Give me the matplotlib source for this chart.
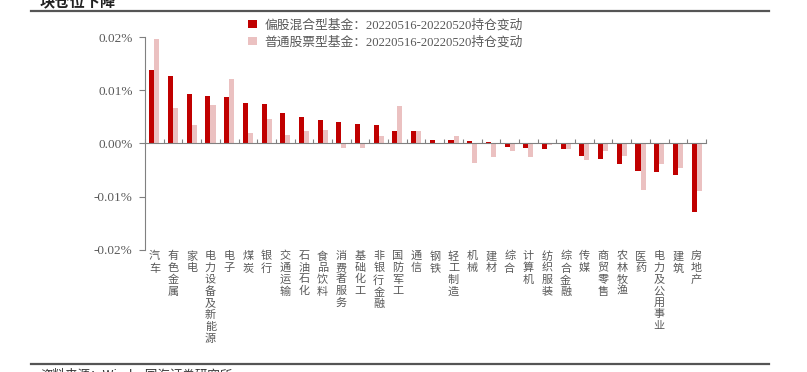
import matplotlib.pyplot as plt
import numpy as np
from matplotlib.ticker import FuncFormatter

plt.rcParams['font.family'] = ['Liberation Serif', 'Noto Sans CJK SC']
plt.rcParams['axes.unicode_minus'] = False

# industries, ordered as in the chart
industries = ["汽车", "有色金属", "家电", "电力设备及新能源", "电子", "煤炭", "银行",
              "交通运输", "石油石化", "食品饮料", "消费者服务", "基础化工", "非银行金融",
              "国防军工", "通信", "钢铁", "轻工制造", "机械", "建材", "综合", "计算机",
              "纺织服装", "综合金融", "传媒", "商贸零售", "农林牧渔", "医药",
              "电力及公用事业", "建筑", "房地产"]

# position change, in %
mixed_fund = [0.0138, 0.0126, 0.0093, 0.0089, 0.0087, 0.0077, 0.0074,
              0.0057, 0.0050, 0.0044, 0.0040, 0.0036, 0.0034,
              0.0023, 0.0023, 0.00075, 0.0006, 0.0005, 0.00025, -0.00075, -0.0008,
              -0.00107, -0.0011, -0.0023, -0.0030, -0.0038, -0.0052,
              -0.0053, -0.0059, -0.0128]
stock_fund = [0.0197, 0.0066, 0.0035, 0.0072, 0.0121, 0.0019, 0.0046,
              0.0016, 0.0023, 0.0025, -0.0009, -0.0008, 0.0015,
              0.0071, 0.0023, -0.0001, 0.0014, -0.0036, -0.0025, -0.00145, -0.0026,
              -0.0002, -0.0010, -0.0031, -0.00145, -0.0023, -0.0087,
              -0.0038, -0.0046, -0.0089]

label_mixed = "偏股混合型基金：20220516-20220520持仓变动"
label_stock = "普通股票型基金：20220516-20220520持仓变动"

dark = "#C00000"
light = "#EBC1C1"
gray = "#595959"

fig = plt.figure(figsize=(8.07, 3.72), dpi=100)
ax = fig.add_axes([0.1797, 0.328, 0.6951, 0.5725])

x = np.arange(len(industries))
w = 0.27
ax.bar(x - w / 2, mixed_fund, w, color=dark, label=label_mixed)
ax.bar(x + w / 2, stock_fund, w, color=light, label=label_stock)

ax.set_xlim(-0.5, len(industries) - 0.5)
ax.set_ylim(-0.02, 0.02)
ax.set_yticks([-0.02, -0.01, 0, 0.01, 0.02])
ax.yaxis.set_major_formatter(FuncFormatter(lambda v, p: "%.2f%%" % v))
ax.tick_params(axis='y', direction='out', length=4, color='#808080',
               labelsize=9.5, labelcolor=gray, pad=5)

for s in ['top', 'right']:
    ax.spines[s].set_visible(False)
ax.spines['left'].set_color('#808080')
ax.spines['bottom'].set_position(('data', 0))
ax.spines['bottom'].set_color('#808080')

ax.set_xticks(np.arange(len(industries) + 1) - 0.5)
ax.set_xticklabels([])
ax.tick_params(axis='x', direction='in', length=3, color='#808080')

# vertical stacked labels
for i, name in enumerate(industries):
    ax.text(i, -0.0202, "\n".join(name), ha='center', va='top', fontsize=8,
            color=gray, family='Noto Sans CJK SC', linespacing=1.2,
            multialignment='center')

leg = ax.legend(loc='upper left', bbox_to_anchor=(0.173, 1.115), frameon=False,
                fontsize=9.2, handlelength=0.65, handleheight=0.65, handletextpad=0.6,
                labelspacing=0.35, borderpad=0)
for t in leg.get_texts():
    t.set_color(gray)

# report page decoration
fig.text(40 / 807, 1 - 7 / 372, "块仓位下降", fontsize=11, fontweight='bold',
         family='Noto Sans CJK SC', va='baseline', color='#222222')
fig.add_artist(plt.Line2D([31 / 807, 769 / 807], [1 - 11 / 372] * 2,
                          color='#555555', lw=1.6))
fig.add_artist(plt.Line2D([31 / 807, 769 / 807], [1 - 364 / 372] * 2,
                          color='#555555', lw=1.6))
fig.text(40 / 807, 1 - 369 / 372, "资料来源：Wind，国海证券研究所", fontsize=9,
         family=['Noto Sans CJK SC'], va='top', color='#333333')

fig.savefig("out.png", dpi=100)
